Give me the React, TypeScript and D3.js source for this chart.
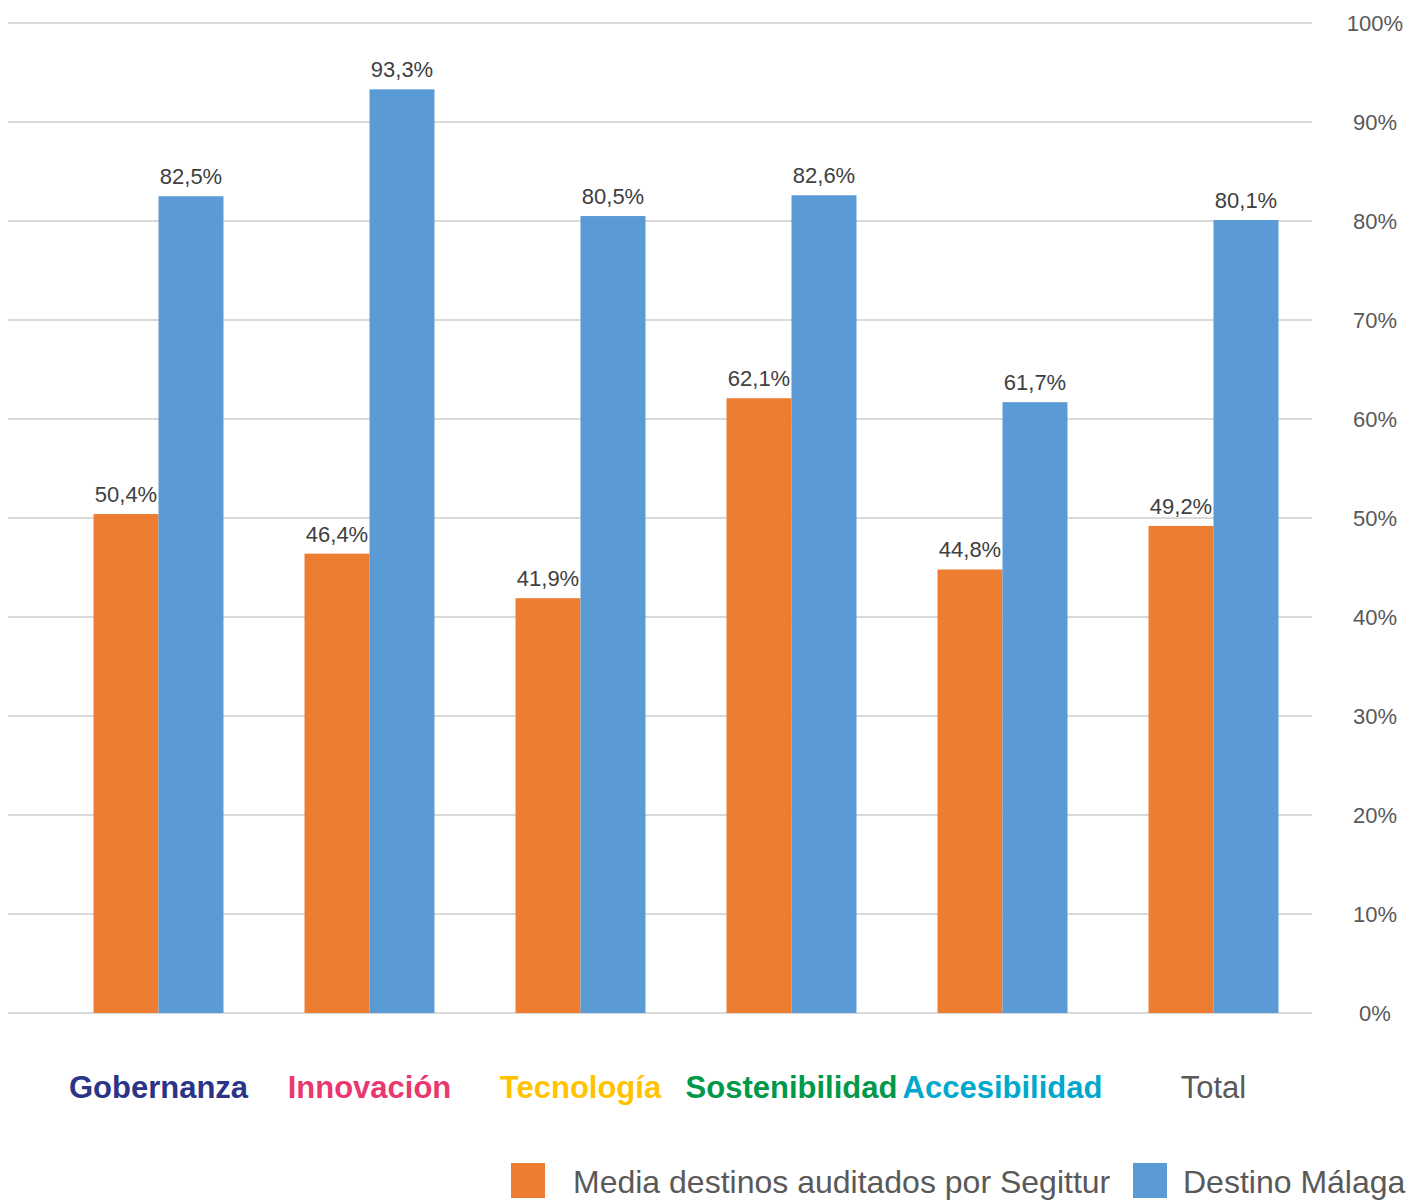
import React from 'react';
import * as d3 from 'd3';

const categories = ['Gobernanza', 'Innovación', 'Tecnología', 'Sostenibilidad', 'Accesibilidad', 'Total'];
const categoryColors = ['#2b3486', '#e8386f', '#ffc300', '#00984a', '#00a9cc', '#595959'];
const seriesNames = ['Media destinos auditados por Segittur', 'Destino Málaga'];
const seriesColors = ['#ed7d31', '#5b9bd5'];
const mediaValues = [50.4, 46.4, 41.9, 62.1, 44.8, 49.2];
const malagaValues = [82.5, 93.3, 80.5, 82.6, 61.7, 80.1];
const yTicks = [0, 10, 20, 30, 40, 50, 60, 70, 80, 90, 100];

const W = 1410;
const H = 1200;
const FONT = "'Liberation Sans', Arial, sans-serif";

const fmt = (v: number) => v.toFixed(1).replace('.', ',') + '%';

const App: React.FC = () => {
  const x = d3.scaleBand<string>()
    .domain(categories)
    .range([53, 1319])
    .paddingInner(0.384)
    .paddingOuter(0.192);

  const xs = d3.scaleBand<string>()
    .domain(seriesNames)
    .range([0, x.bandwidth()]);

  const y = d3.scaleLinear().domain([0, 100]).range([1013, 23]);

  const series = [mediaValues, malagaValues];

  return (
    <svg
      width={W}
      height={H}
      style={{ position: 'absolute', left: 0, top: 0, display: 'block', background: '#fff' }}
    >
      {/* grid + right axis */}
      {yTicks.map((t) => (
        <g key={t}>
          <line x1={8} x2={1312} y1={y(t)} y2={y(t)} stroke="#d9d9d9" strokeWidth={2} />
          <text x={1375} y={y(t) + 8} textAnchor="middle" fontFamily={FONT} fontSize={22} fill="#595959">
            {t}%
          </text>
        </g>
      ))}

      {/* bars */}
      {series.map((vals, si) =>
        vals.map((v, i) => {
          const bx = (x(categories[i]) ?? 0) + (xs(seriesNames[si]) ?? 0);
          return (
            <g key={`${si}-${i}`}>
              <rect x={bx} y={y(v)} width={xs.bandwidth()} height={y(0) - y(v)} fill={seriesColors[si]} />
              <text
                x={bx + xs.bandwidth() / 2}
                y={y(v) - 12}
                textAnchor="middle"
                fontFamily={FONT}
                fontSize={22}
                fill="#404040"
              >
                {fmt(v)}
              </text>
            </g>
          );
        })
      )}

      {/* category labels */}
      {categories.map((c, i) => (
        <text
          key={c}
          x={(x(c) ?? 0) + x.bandwidth() / 2}
          y={1098}
          textAnchor="middle"
          fontFamily={FONT}
          fontSize={31}
          fontWeight={c === 'Total' ? 'normal' : 'bold'}
          fill={categoryColors[i]}
        >
          {c}
        </text>
      ))}

      {/* legend */}
      <rect x={511} y={1163} width={34} height={35} fill={seriesColors[0]} />
      <text x={573} y={1193} fontFamily={FONT} fontSize={32} fill="#595959">
        {seriesNames[0]}
      </text>
      <rect x={1133} y={1163} width={34} height={35} fill={seriesColors[1]} />
      <text x={1183} y={1193} fontFamily={FONT} fontSize={32} fill="#595959">
        {seriesNames[1]}
      </text>
    </svg>
  );
};

export default App;
